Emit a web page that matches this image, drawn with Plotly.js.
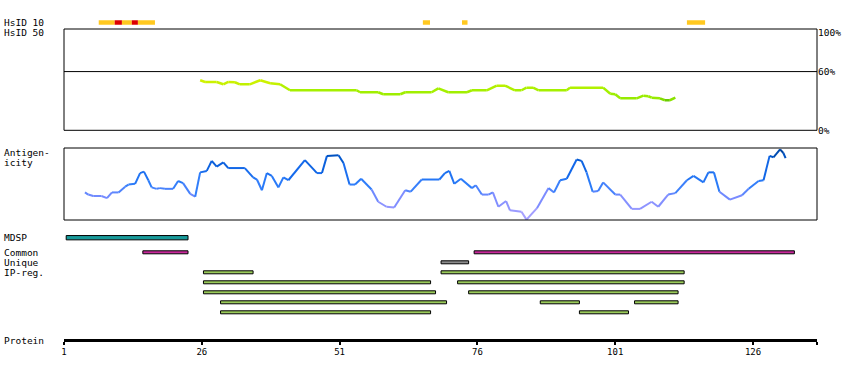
<!DOCTYPE html>
<html>
<head>
<meta charset="utf-8">
<script src="https://cdn.plot.ly/plotly-3.0.1.min.js"></script>
<style>html,body{margin:0;padding:0;background:#fff;}#chart{width:850px;height:380px;}</style>
</head>
<body>
<div id="chart"></div>
<script>
// ---------- DATA ----------
const proteinLength = 137.6;
const axisTickVals = [1, 26, 51, 76, 101, 126];

// HsID 10 hits (residue ranges)
const hsidStart = [7.3, 10.2, 11.5, 13.3, 14.4, 66.1, 73.2, 114.0];
const hsidEnd   = [10.2, 11.5, 13.3, 14.4, 17.5, 67.4, 74.2, 117.3];
const hsidLevel = ['mid', 'high', 'mid', 'high', 'mid', 'mid', 'mid', 'mid'];

// HsID 50 identity profile (%)
const idRes = [25.7, 26.6, 28.7, 29.9, 30.8, 32.0, 32.9, 34.7, 36.6, 38.4, 40.2, 42.0, 54.1, 54.7, 58.0, 58.9, 62.0, 62.9, 67.7, 68.9, 70.7, 74.1, 75.0, 77.7, 79.5, 81.0, 82.8, 84.0, 84.9, 86.1, 87.1, 92.2, 92.8, 98.8, 100.1, 101.0, 101.9, 104.9, 106.1, 107.0, 107.6, 109.1, 110.0, 110.9, 111.9];
const idPct = [51.1, 49.4, 49.4, 47.0, 49.4, 49.1, 47.0, 47.0, 51.1, 48.1, 47.0, 40.9, 40.9, 38.9, 38.9, 36.8, 36.8, 38.9, 38.9, 42.9, 38.9, 38.9, 40.9, 40.9, 45.6, 45.6, 40.9, 40.9, 43.6, 43.6, 40.9, 40.9, 43.6, 43.6, 37.4, 36.8, 32.7, 32.7, 35.4, 34.8, 33.3, 32.7, 30.7, 30.7, 33.3];
const idTicks = [0, 60, 100];
const idTickText = ['0%', '60%', '100%'];

// Antigenicity profile (relative score 0..1)
const agRes = [4.8,5.4,6.3,7.8,8.8,9.7,10.9,12.1,12.7,13.9,14.8,15.5,16.3,16.9,17.8,18.4,19.3,20.8,21.7,22.6,23.9,24.8,25.7,26.9,27.8,28.7,29.9,30.8,33.8,35.3,36.0,36.9,37.8,38.7,39.9,40.8,41.7,44.7,46.9,47.8,48.7,50.8,51.7,52.8,53.8,54.9,56.8,58.0,59.5,60.9,62.9,63.9,65.9,69.1,70.1,70.9,71.8,73.0,75.0,75.7,76.8,78.0,78.8,79.8,81.2,81.9,84.0,84.9,86.8,88.9,89.9,91.0,92.2,94.0,94.9,95.8,96.9,97.9,98.8,101.0,101.9,104.0,105.5,107.6,108.8,110.6,111.9,114.0,115.2,117.0,117.9,118.9,119.9,121.8,124.0,125.2,127.0,127.9,129.0,129.7,130.9,131.5,131.9];
const agVal = [0.38,0.35,0.33,0.33,0.30,0.38,0.38,0.46,0.49,0.50,0.65,0.67,0.55,0.45,0.43,0.44,0.43,0.43,0.54,0.51,0.36,0.32,0.66,0.68,0.82,0.74,0.80,0.72,0.72,0.59,0.56,0.41,0.65,0.61,0.45,0.59,0.55,0.83,0.65,0.65,0.89,0.90,0.79,0.49,0.49,0.57,0.42,0.25,0.18,0.17,0.41,0.39,0.56,0.56,0.65,0.68,0.50,0.57,0.44,0.48,0.35,0.35,0.38,0.18,0.26,0.13,0.11,0.00,0.16,0.44,0.38,0.55,0.57,0.84,0.82,0.66,0.39,0.40,0.52,0.35,0.35,0.15,0.15,0.25,0.18,0.35,0.37,0.55,0.61,0.52,0.66,0.66,0.39,0.28,0.34,0.43,0.54,0.55,0.89,0.87,0.98,0.93,0.86];

// Features
const featTrack = ['MDSP', 'Common', 'Common', 'Unique'];
const featStart = [1.4, 15.3, 75.4, 69.4];
const featEnd   = [23.5, 23.5, 133.5, 74.4];

// IP-reg regions (row index 0..4)
const ipRow   = [0, 0, 1, 1, 2, 2, 3, 3, 3, 4, 4];
const ipStart = [26.3, 69.4, 26.3, 72.4, 26.3, 74.4, 29.4, 87.4, 104.5, 29.4, 94.5];
const ipEnd   = [35.3, 113.5, 67.5, 113.5, 68.4, 112.4, 70.4, 94.5, 112.4, 67.5, 103.4];

// ---------- STYLE / LAYOUT HELPERS ----------
const W = 850, H = 380;
const FONT = 'DejaVu Sans Mono';
const trackY = {MDSP: 237.7, Common: 252.3, Unique: 262.3};
const trackH = {MDSP: 4.3, Common: 3, Unique: 3};
const trackColor = {MDSP: '#189a9a', Common: '#c8289b', Unique: '#8c8c8c'};
const ipY0 = 272.3, ipDy = 10, ipColor = '#9acb5a';
const hsidY = 22.5;
const hsidColor = {mid: '#ffc820', high: '#dd0000'};

function lerp(a, b, t) { return a + (b - a) * t; }
function rgbStops(stops, v) {
  if (v <= stops[0][0]) return 'rgb(' + stops[0][1].join(',') + ')';
  for (let i = 1; i < stops.length; i++) {
    if (v <= stops[i][0]) {
      const t = (v - stops[i-1][0]) / (stops[i][0] - stops[i-1][0]);
      const c = stops[i-1][1].map((c0, k) => Math.round(lerp(c0, stops[i][1][k], t)));
      return 'rgb(' + c.join(',') + ')';
    }
  }
  return 'rgb(' + stops[stops.length-1][1].join(',') + ')';
}
const agStops = [[0, [175,165,255]], [0.3, [125,140,255]], [0.5, [45,125,250]], [0.7, [20,105,235]], [0.88, [0,85,200]], [1.0, [0,60,140]]];
const idStops = [[30.5, [100,200,0]], [32.5, [150,235,0]], [41, [165,240,0]], [51, [212,242,0]]];

const traces = [];

// identity line segments
for (let i = 0; i < idRes.length - 1; i++) {
  const v = (idPct[i] + idPct[i+1]) / 2;
  traces.push({type: 'scatter', mode: 'lines', x: [idRes[i], idRes[i+1]], y: [idPct[i], idPct[i+1]],
    xaxis: 'x', yaxis: 'y', line: {color: rgbStops(idStops, v), width: 2.5}, hoverinfo: 'skip', showlegend: false});
}
// antigenicity line segments
for (let i = 0; i < agRes.length - 1; i++) {
  const v = (agVal[i] + agVal[i+1]) / 2;
  traces.push({type: 'scatter', mode: 'lines', x: [agRes[i], agRes[i+1]], y: [agVal[i], agVal[i+1]],
    xaxis: 'x', yaxis: 'y2', line: {color: rgbStops(agStops, v), width: 2}, hoverinfo: 'skip', showlegend: false});
}
// HsID 10 bars
['mid', 'high'].forEach(level => {
  const idx = hsidLevel.map((l, i) => l === level ? i : -1).filter(i => i >= 0);
  traces.push({type: 'bar', orientation: 'h', xaxis: 'x', yaxis: 'y3',
    base: idx.map(i => hsidStart[i]), x: idx.map(i => hsidEnd[i] - hsidStart[i]),
    y: idx.map(() => hsidY), width: idx.map(() => 4.5),
    marker: {color: hsidColor[level], line: {width: 0}}, hoverinfo: 'skip', showlegend: false});
});
// feature bars
featTrack.forEach((t, i) => {
  traces.push({type: 'bar', orientation: 'h', xaxis: 'x', yaxis: 'y3',
    base: [featStart[i]], x: [featEnd[i] - featStart[i]], y: [trackY[t]], width: [trackH[t]],
    marker: {color: trackColor[t], line: {color: 'black', width: 1}}, hoverinfo: 'skip', showlegend: false});
});
// IP-reg bars
traces.push({type: 'bar', orientation: 'h', xaxis: 'x', yaxis: 'y3',
  base: ipStart, x: ipEnd.map((e, i) => e - ipStart[i]), y: ipRow.map(r => ipY0 + r * ipDy),
  width: ipRow.map(() => 3),
  marker: {color: ipColor, line: {color: 'black', width: 1}}, hoverinfo: 'skip', showlegend: false});

function ann(text, px, py) {
  return {text: text, xref: 'paper', yref: 'paper', x: px / W, y: 1 - py / H, xanchor: 'left', yanchor: 'middle',
    showarrow: false, font: {family: FONT, size: 9.5, color: 'black'}};
}

const tickVals = axisTickVals.concat([proteinLength]);
const tickText = axisTickVals.map(String).concat(['']);

const layout = {
  width: W, height: H,
  margin: {l: 0, r: 0, t: 0, b: 0},
  paper_bgcolor: 'white', plot_bgcolor: 'rgba(0,0,0,0)',
  showlegend: false, barmode: 'overlay', hovermode: false,
  xaxis: {domain: [64 / W, 817 / W], range: [1, proteinLength], anchor: 'y3',
    showline: true, linewidth: 3, linecolor: 'black', mirror: false,
    ticks: 'outside', ticklen: 3, tickwidth: 2, tickcolor: 'black',
    tickmode: 'array', tickvals: tickVals, ticktext: tickText,
    tickfont: {family: FONT, size: 9, color: 'black'},
    showgrid: false, zeroline: false, fixedrange: true},
  yaxis: {domain: [1 - 130.3 / H, 1 - 29 / H], range: [0, 103.5], anchor: 'x', side: 'right',
    showline: false, ticks: '', tickmode: 'array', tickvals: idTicks, ticktext: idTickText,
    tickfont: {family: FONT, size: 9.5, color: 'black'}, showgrid: false, zeroline: false, fixedrange: true},
  yaxis2: {domain: [1 - 220 / H, 1 - 148 / H], range: [-0.005, 1], anchor: 'x', visible: false, fixedrange: true},
  yaxis3: {domain: [1 - 338.5 / H, 1], range: [338.5, 0], anchor: 'x', visible: false, fixedrange: true},
  shapes: [
    {type: 'rect', xref: 'x domain', yref: 'y domain', x0: 0, x1: 1, y0: 0, y1: 1, line: {color: 'black', width: 1}},
    {type: 'line', xref: 'x domain', yref: 'y', x0: 0, x1: 1, y0: 60, y1: 60, line: {color: 'black', width: 1}},
    {type: 'rect', xref: 'x domain', yref: 'y2 domain', x0: 0, x1: 1, y0: 0, y1: 1, line: {color: 'black', width: 1}}
  ],
  annotations: [
    ann('HsID 10', 2, 22.5), ann('HsID 50', 2, 32.7),
    ann('Antigen-', 2, 152.7), ann('icity', 2, 162.5),
    ann('MDSP', 2, 237.3), ann('Common', 2, 253), ann('Unique', 2, 262.8), ann('IP-reg.', 2, 272.8),
    ann('Protein', 2, 340)
  ]
};

Plotly.newPlot('chart', traces, layout, {staticPlot: true, displayModeBar: false});
</script>
</body>
</html>
